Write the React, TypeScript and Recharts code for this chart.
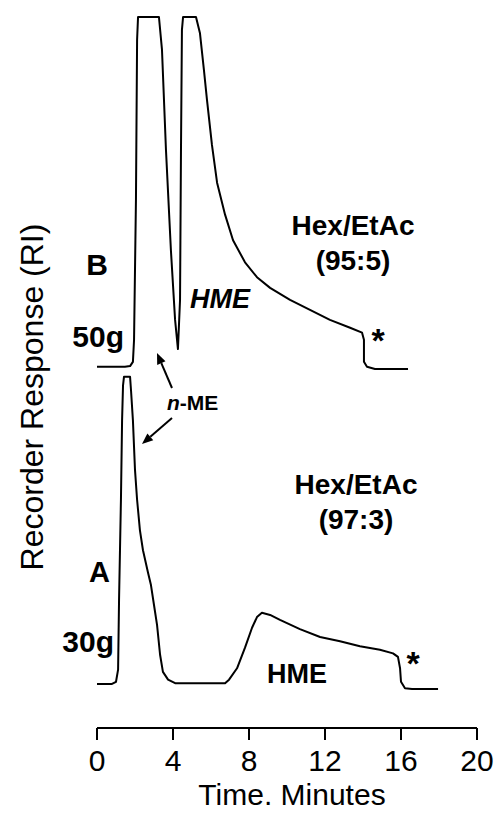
import { LineChart, Line, XAxis, YAxis } from 'recharts'

// elution time in minutes, recorder response in arbitrary units (0–100 of full scale)
const TIME_B = [
  0, 1.47, 1.74, 1.89, 1.95, 2.05, 2.11, 2.16, 3.26, 3.42, 3.63, 3.89, 4.11, 4.26, 4.37, 4.42, 4.47,
  4.53, 5.21, 5.42, 5.63, 5.79, 6.05, 6.32, 6.74, 7.16, 7.79, 8.42, 9.11, 10.16, 11.21, 12.26,
  13.32, 13.95, 14.05, 14.05, 14.21, 14.63, 16.37,
]
const RESP_B = [
  50.8, 50.8, 50.9, 51.5, 54.6, 74.3, 96.8, 100, 100, 95.4, 81.3, 67.2, 57.4, 53.3, 60.2, 81.3, 98.2,
  100, 100, 97.7, 92.5, 88.3, 82.0, 76.7, 72.2, 68.6, 65.5, 63.4, 61.9, 60.2, 58.8, 57.4, 56.3,
  55.6, 54.6, 51.5, 50.8, 50.5, 50.5,
]

const TIME_A = [
  0, 0.79, 1.0, 1.11, 1.16, 1.26, 1.32, 1.37, 1.42, 1.74, 1.79, 1.89, 2.0, 2.11, 2.26, 2.42, 2.68,
  2.84, 3.0, 3.16, 3.32, 3.47, 3.74, 4.11, 6.74, 6.95, 7.37, 7.79, 8.16, 8.42, 8.68, 9.11, 9.63,
  10.68, 11.74, 12.79, 13.84, 14.89, 15.58, 15.84, 15.95, 16.0, 16.21, 16.58, 17.95,
]
const RESP_A = [
  6.2, 6.2, 6.5, 8.2, 18.0, 32.1, 43.3, 48.2, 49.4, 49.4, 47.5, 43.3, 36.3, 32.1, 27.8, 25.0, 21.9,
  20.1, 17.3, 14.5, 10.3, 7.9, 6.8, 6.3, 6.3, 6.8, 8.4, 11.3, 14.1, 15.6, 16.2, 15.9, 15.2, 13.9,
  12.8, 12.2, 11.5, 11.0, 10.5, 10.0, 8.4, 6.5, 5.6, 5.5, 5.5,
]

const TIME_TICKS = [0, 4, 8, 12, 16, 20]

const traceA = TIME_A.map((t, i) => ({ t, r: RESP_A[i] }))
const traceB = TIME_B.map((t, i) => ({ t, r: RESP_B[i] }))

const FONT = '"Liberation Sans", Arial, Helvetica, sans-serif'

function Arrow({ x1, y1, x2, y2 }: { x1: number; y1: number; x2: number; y2: number }) {
  const a = Math.atan2(y2 - y1, x2 - x1)
  const len = 11
  const w = 4.5
  const bx = x2 - len * Math.cos(a)
  const by = y2 - len * Math.sin(a)
  const px = -Math.sin(a) * w
  const py = Math.cos(a) * w
  return (
    <g>
      <line x1={x1} y1={y1} x2={bx} y2={by} stroke="#000" strokeWidth={2} />
      <polygon points={`${x2},${y2} ${bx + px},${by + py} ${bx - px},${by - py}`} fill="#000" />
    </g>
  )
}

export default function App() {
  return (
    <div style={{ position: 'absolute', left: 0, top: 0, width: 494, height: 813, background: '#fff' }}>
      <LineChart
        width={494}
        height={813}
        margin={{ top: 17, right: 17, bottom: 25, left: 97 }}
      >
        <XAxis
          type="number"
          dataKey="t"
          domain={[0, 20]}
          ticks={TIME_TICKS}
          interval={0}
          height={60}
          allowDuplicatedCategory={false}
          axisLine={{ stroke: '#000', strokeWidth: 2 }}
          tickLine={{ stroke: '#000', strokeWidth: 2 }}
          tickSize={12}
          tickMargin={10}
          tick={{ fontSize: 30, fill: '#000', fontFamily: FONT }}
        />
        <YAxis type="number" domain={[0, 100]} hide />
        <Line
          data={traceB}
          dataKey="r"
          type="linear"
          stroke="#000"
          strokeWidth={2}
          dot={false}
          strokeLinejoin="round"
          isAnimationActive={false}
        />
        <Line
          data={traceA}
          dataKey="r"
          type="linear"
          stroke="#000"
          strokeWidth={2}
          dot={false}
          strokeLinejoin="round"
          isAnimationActive={false}
        />
      </LineChart>
      <svg
        width={494}
        height={813}
        style={{ position: 'absolute', left: 0, top: 0, pointerEvents: 'none' }}
        fontFamily={FONT}
        fill="#000"
      >
        <text x={43} y={397} fontSize={32} textAnchor="middle" transform="rotate(-90 43 397)">
          Recorder Response (RI)
        </text>
        <text x={292} y={805} fontSize={30} textAnchor="middle">
          Time. Minutes
        </text>

        <text x={108} y={275} fontSize={30} fontWeight="bold" textAnchor="end">B</text>
        <text x={124} y={347} fontSize={30} fontWeight="bold" textAnchor="end">50g</text>
        <text x={110} y={582} fontSize={29} fontWeight="bold" textAnchor="end">A</text>
        <text x={114} y={652} fontSize={30} fontWeight="bold" textAnchor="end">30g</text>

        <text x={190} y={308} fontSize={27} fontWeight="bold" fontStyle="italic">HME</text>
        <text x={267} y={683} fontSize={27} fontWeight="bold">HME</text>

        <text x={167} y={410} fontSize={21} fontWeight="bold">
          <tspan fontStyle="italic">n</tspan>-ME
        </text>
        <Arrow x1={172} y1={388} x2={157} y2={353} />
        <Arrow x1={172} y1={418} x2={142} y2={444} />

        <text x={353} y={235} fontSize={28} fontWeight="bold" textAnchor="middle">Hex/EtAc</text>
        <text x={353} y={270} fontSize={28} fontWeight="bold" textAnchor="middle">(95:5)</text>
        <text x={356} y={494} fontSize={28} fontWeight="bold" textAnchor="middle">Hex/EtAc</text>
        <text x={356} y={529} fontSize={28} fontWeight="bold" textAnchor="middle">(97:3)</text>

        <text x={378} y={352} fontSize={34} fontWeight="bold" textAnchor="middle">*</text>
        <text x={413} y={675} fontSize={34} fontWeight="bold" textAnchor="middle">*</text>
      </svg>
    </div>
  )
}
